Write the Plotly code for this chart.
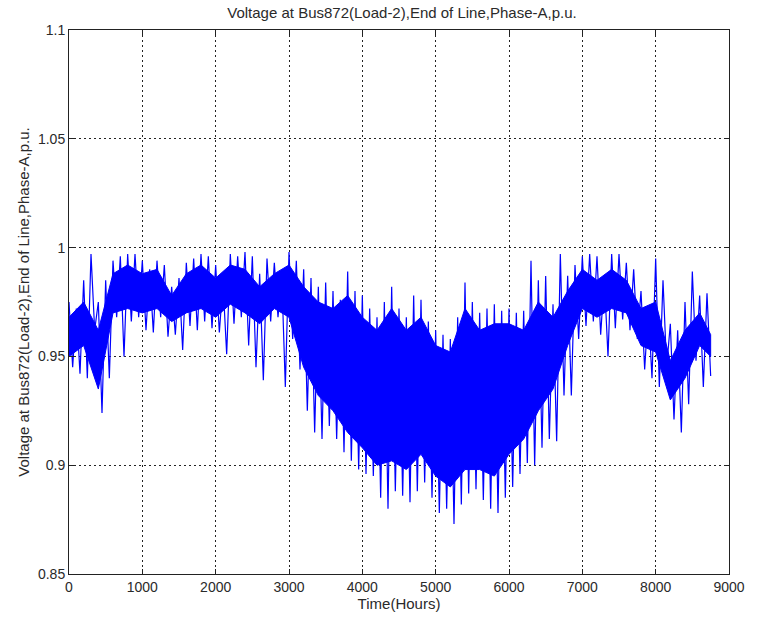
import plotly.graph_objects as go

# Envelope of the hourly voltage, read every 100 h: highest and lowest values in each window
hours = list(range(0, 8800, 100))
v_high = [0.975, 0.972, 0.985, 0.997, 0.975, 0.985, 0.994, 0.996, 0.997, 0.997,
          0.994, 0.990, 0.994, 0.992, 0.982, 0.986, 0.993, 0.995, 0.997, 0.996,
          0.992, 0.984, 0.997, 0.996, 0.998, 0.996, 0.988, 0.995, 0.993, 0.988,
          0.998, 0.994, 0.990, 0.986, 0.982, 0.984, 0.980, 0.976, 0.989, 0.980,
          0.978, 0.972, 0.968, 0.975, 0.982, 0.972, 0.968, 0.978, 0.976, 0.966,
          0.962, 0.960, 0.958, 0.968, 0.984, 0.975, 0.970, 0.972, 0.974, 0.971,
          0.972, 0.970, 0.971, 0.994, 0.985, 0.987, 0.974, 0.997, 0.987, 0.992,
          0.996, 0.997, 0.996, 0.986, 0.997, 0.997, 0.993, 0.990, 0.980, 0.972,
          0.995, 0.985, 0.965, 0.962, 0.975, 0.989, 0.978, 0.979]
v_low = [0.945, 0.942, 0.940, 0.962, 0.924, 0.940, 0.968, 0.950, 0.966, 0.968,
         0.962, 0.961, 0.968, 0.959, 0.960, 0.953, 0.964, 0.962, 0.966, 0.963,
         0.961, 0.951, 0.965, 0.968, 0.955, 0.945, 0.939, 0.966, 0.968, 0.936,
         0.958, 0.944, 0.925, 0.915, 0.912, 0.918, 0.912, 0.906, 0.902, 0.898,
         0.896, 0.895, 0.885, 0.880, 0.888, 0.886, 0.883, 0.888, 0.892, 0.885,
         0.878, 0.880, 0.873, 0.882, 0.887, 0.889, 0.884, 0.880, 0.878, 0.885,
         0.890, 0.896, 0.901, 0.900, 0.908, 0.912, 0.911, 0.932, 0.932, 0.958,
         0.964, 0.966, 0.960, 0.950, 0.963, 0.967, 0.962, 0.958, 0.944, 0.940,
         0.936, 0.945, 0.921, 0.915, 0.928, 0.948, 0.936, 0.941]

# Dense core of the daily swings, read every 200 h (where the trace is solid blue)
core_hours = [0, 200, 400, 600, 800, 1000, 1200, 1400, 1600, 1800, 2000, 2200, 2400,
              2600, 2800, 3000, 3200, 3400, 3600, 3800, 4000, 4200, 4400, 4600, 4800,
              5000, 5200, 5400, 5600, 5800, 6000, 6200, 6400, 6600, 6800, 7000, 7200,
              7400, 7600, 7800, 8000, 8200, 8400, 8600, 8750]
core_high = [0.968, 0.975, 0.962, 0.988, 0.992, 0.988, 0.990, 0.978, 0.988, 0.992,
             0.986, 0.992, 0.990, 0.982, 0.988, 0.992, 0.982, 0.975, 0.972, 0.978,
             0.968, 0.962, 0.972, 0.962, 0.968, 0.955, 0.952, 0.972, 0.962, 0.965,
             0.965, 0.962, 0.975, 0.968, 0.980, 0.990, 0.985, 0.990, 0.985, 0.972,
             0.975, 0.948, 0.962, 0.970, 0.960]
core_low = [0.950, 0.955, 0.935, 0.970, 0.972, 0.970, 0.972, 0.966, 0.970, 0.972,
            0.968, 0.974, 0.970, 0.965, 0.972, 0.968, 0.945, 0.932, 0.925, 0.915,
            0.908, 0.900, 0.902, 0.898, 0.905, 0.895, 0.890, 0.898, 0.898, 0.895,
            0.905, 0.912, 0.925, 0.935, 0.955, 0.972, 0.968, 0.972, 0.970, 0.955,
            0.952, 0.930, 0.940, 0.955, 0.950]

x_ticks = [0, 1000, 2000, 3000, 4000, 5000, 6000, 7000, 8000, 9000]
y_ticks = [0.85, 0.9, 0.95, 1.0, 1.05, 1.1]
y_tick_text = ["0.85", "0.9", "0.95", "1", "1.05", "1.1"]

BLUE = "#0000ff"
TEXT = "#2a2a2a"
FAMILY = "Liberation Sans, Arial, sans-serif"

xs, ys = [], []
for h, hi, lo in zip(hours, v_high, v_low):
    xs += [h, h + 50]
    ys += [hi, lo]

fig = go.Figure()
fig.add_trace(go.Scatter(x=core_hours + core_hours[::-1],
                         y=core_high + core_low[::-1],
                         mode="lines", fill="toself", fillcolor=BLUE,
                         line=dict(color=BLUE, width=1),
                         hoverinfo="skip", showlegend=False))
fig.add_trace(go.Scatter(x=xs, y=ys, mode="lines",
                         line=dict(color=BLUE, width=1.2),
                         hoverinfo="skip", showlegend=False))

tick_font = dict(family=FAMILY, size=14, color=TEXT)
title_font = dict(family=FAMILY, size=15, color=TEXT)
axis_common = dict(showline=True, linecolor="#222222", linewidth=1, mirror="ticks",
                   ticks="inside", ticklen=5, tickcolor="#222222",
                   showgrid=True, gridcolor="#222222", gridwidth=1, griddash="2px,3px",
                   zeroline=False, tickfont=tick_font)

fig.update_layout(
    width=757, height=621,
    margin=dict(l=69, r=21, t=30, b=47),
    paper_bgcolor="white", plot_bgcolor="white",
    title=dict(text="Voltage at Bus872(Load-2),End of Line,Phase-A,p.u.",
               x=0.531, xanchor="center", y=0.979, yanchor="middle",
               font=title_font),
    xaxis=dict(range=[0, 9000], tickvals=x_ticks, ticktext=[str(t) for t in x_ticks],
               title=dict(text="Time(Hours)", font=title_font, standoff=2), **axis_common),
    yaxis=dict(range=[0.85, 1.1], tickvals=y_ticks, ticktext=y_tick_text,
               title=dict(text="Voltage at Bus872(Load-2),End of Line,Phase-A,p.u.",
                          font=title_font, standoff=4), **axis_common),
)

fig.write_html("out.html")
